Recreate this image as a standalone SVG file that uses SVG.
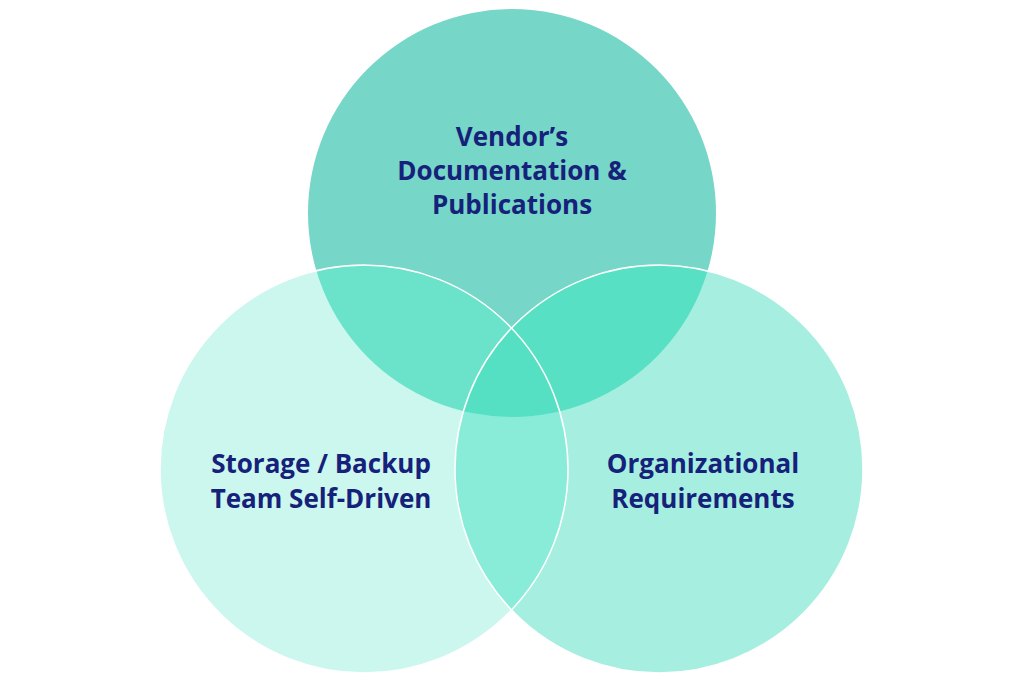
<svg xmlns="http://www.w3.org/2000/svg" width="1024" height="682" viewBox="0 0 1024 682">
  <defs>
    <clipPath id="clipLeft"><circle cx="364" cy="469" r="204"/></clipPath>
    <clipPath id="clipRight"><circle cx="659" cy="469" r="204"/></clipPath>
    <clipPath id="clipTop"><circle cx="512" cy="213" r="204"/></clipPath>
  </defs>
  <style>
    .lbl { font-family: "Open Sans", "Lato", "Liberation Sans", sans-serif; font-weight: 700; font-size: 26px; fill: #16217A; text-anchor: middle; }
    .edge { fill: none; stroke: #FFFFFF; stroke-width: 1.5; }
  </style>
  <rect width="1024" height="682" fill="#FFFFFF"/>

  <g id="node-top">
    <circle cx="512" cy="213" r="204" fill="#76D6C8"/>
  </g>
  <g id="node-left">
    <circle cx="364" cy="469" r="204" fill="#CCF7EE"/>
  </g>
  <g id="node-right">
    <circle cx="659" cy="469" r="204" fill="#A6EFE0"/>
  </g>

  <g id="overlaps">
    <circle cx="512" cy="213" r="204" fill="#6BE3CB" clip-path="url(#clipLeft)"/>
    <circle cx="512" cy="213" r="204" fill="#58E0C4" clip-path="url(#clipRight)"/>
    <circle cx="364" cy="469" r="204" fill="#88ECD8" clip-path="url(#clipRight)"/>
    <g clip-path="url(#clipTop)">
      <circle cx="364" cy="469" r="204" fill="#55E0C3" clip-path="url(#clipRight)"/>
    </g>
  </g>

  <g id="outlines">
    <circle class="edge" cx="364" cy="469" r="204"/>
    <circle class="edge" cx="659" cy="469" r="204"/>
  </g>

  <g id="labels">
    <text class="lbl" x="512" y="146">Vendor’s</text>
    <text class="lbl" x="512" y="180">Documentation &amp;</text>
    <text class="lbl" x="512" y="214">Publications</text>
    <text class="lbl" x="321" y="473">Storage / Backup</text>
    <text class="lbl" x="321" y="508">Team Self-Driven</text>
    <text class="lbl" x="703" y="473">Organizational</text>
    <text class="lbl" x="703" y="508">Requirements</text>
  </g>
</svg>
